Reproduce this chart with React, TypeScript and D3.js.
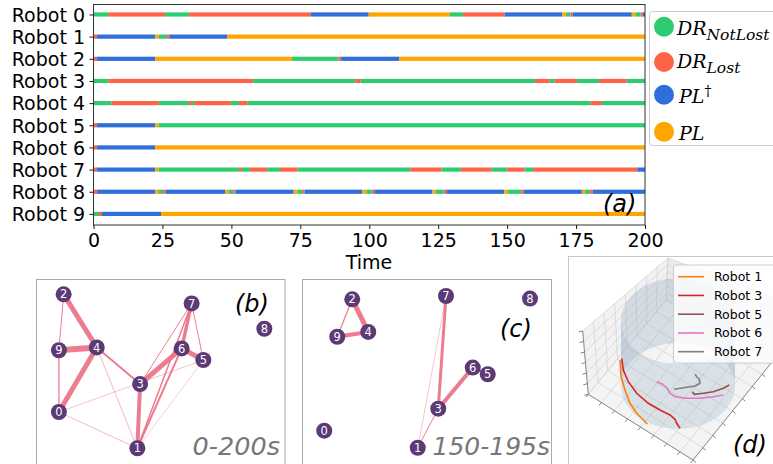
import React, { useEffect, useRef } from "react";
import * as d3 from "d3";

// ---------- (a) timeline data ----------
// state index: 0 = DR_NotLost, 1 = DR_Lost, 2 = PL†, 3 = PL
const STATE_COLORS = ["#2ecc71", "#ff6347", "#2f6fdb", "#ffa500"];
const ROBOTS = ["Robot 0", "Robot 1", "Robot 2", "Robot 3", "Robot 4", "Robot 5", "Robot 6", "Robot 7", "Robot 8", "Robot 9"];
const X_TICKS = [0, 25, 50, 75, 100, 125, 150, 175, 200];
const T_END = 200;

// [start time, state]
const robot0 = [[0, 0], [5.3, 1], [25.9, 0], [34.6, 1], [78.7, 2], [99.8, 3], [129.2, 0], [134, 1], [149.1, 2], [170, 3], [171.4, 0], [173, 1], [173.8, 2], [195.2, 3], [196.6, 0], [198.4, 1], [199.2, 2]];
const robot1 = [[0, 1], [1.3, 2], [22.4, 3], [23.7, 0], [26.6, 1], [27.5, 2], [48.5, 3]];
const robot2 = [[0, 1], [1.3, 2], [22.4, 3], [71.9, 0], [88.8, 1], [89.8, 2], [110.8, 3]];
const robot3 = [[0, 0], [5.4, 1], [57.9, 0], [94.9, 1], [96.9, 0], [160.1, 1], [165.4, 0], [167.2, 1], [175.3, 0], [183.3, 1], [193.4, 0]];
const robot4 = [[0, 0], [6.5, 1], [23.7, 0], [34.6, 1], [35.7, 0], [36.5, 1], [49.8, 0], [52.7, 1], [55.9, 0], [180.3, 1], [184.4, 0]];
const robot5 = [[0, 1], [1.3, 2], [22.4, 3], [23.6, 0]];
const robot6 = [[0, 1], [1.3, 2], [22.4, 3]];
const robot7 = [[0, 1], [1.3, 2], [22.4, 3], [23.6, 0], [52.7, 1], [53.8, 0], [56.7, 1], [63, 0], [67.6, 1], [74, 0], [114.9, 1], [126.2, 0], [133.2, 1], [144.4, 0], [150.1, 1], [156.3, 0], [159.4, 1], [197.2, 2]];
const robot8 = [[0, 1], [1.3, 2], [22.4, 3], [23.7, 0], [25.2, 1], [26.2, 2], [47.8, 3], [49, 0], [50.7, 1], [51.5, 2], [72.6, 3], [74, 0], [75.7, 1], [76.6, 2], [97.5, 3], [99, 0], [100.9, 1], [101.9, 2], [122.9, 3], [124.1, 0], [127, 1], [128, 2], [149, 3], [150.3, 0], [155, 1], [156, 2], [177.1, 3], [178.3, 0], [180.1, 1], [181.1, 2]];
const robot9 = [[0, 0], [2, 1], [3.1, 2], [24.5, 3]];
const TIMELINES = [robot0, robot1, robot2, robot3, robot4, robot5, robot6, robot7, robot8, robot9];

// ---------- (b), (c) graph data ----------
const NODE_IDS = [0, 1, 2, 3, 4, 5, 6, 7, 8, 9];
// layout positions in [0,1] panel units
const nodesB = [[0.092, 0.719], [0.407, 0.915], [0.111, 0.083], [0.418, 0.568], [0.244, 0.37], [0.672, 0.438], [0.585, 0.375], [0.625, 0.132], [0.917, 0.269], [0.092, 0.385]];
const nodesC = [[0.089, 0.82], [0.463, 0.912], [0.201, 0.11], [0.545, 0.701], [0.265, 0.286], [0.743, 0.515], [0.683, 0.479], [0.576, 0.092], [0.912, 0.106], [0.141, 0.312]];
// [source, target, weight]
const edgesB = [[2, 4, 5], [9, 4, 6], [0, 4, 5], [9, 0, 1.3], [2, 9, 1], [4, 3, 2], [4, 1, 0.7], [0, 5, 0.6], [0, 1, 0.7], [3, 1, 4], [3, 6, 5], [3, 7, 1], [6, 5, 5], [6, 7, 3.5], [7, 5, 1], [7, 1, 1.5], [6, 1, 2], [5, 1, 0.5]];
const edgesC = [[2, 4, 5], [9, 4, 4], [2, 9, 1.3], [7, 3, 3], [3, 6, 4], [6, 5, 3], [7, 1, 0.6], [3, 1, 1]];

// ---------- (d) 3D trajectory data (panel units) ----------
const TRAJ_NAMES = ["Robot 1", "Robot 3", "Robot 5", "Robot 6", "Robot 7"];
const TRAJ_COLORS = ["#ff7f0e", "#d62728", "#8c564b", "#e377c2", "#7f7f7f"];
const traj1 = [[52, 104], [53, 120.7], [57, 134], [62, 147.3], [68.7, 157.3], [75.3, 164], [79.3, 168]];
const traj3 = [[53.7, 102.3], [55.3, 114], [60.3, 125.7], [68.7, 137.3], [80.3, 147.3], [92, 154], [102, 159], [107, 163.3], [108.7, 167.3], [112, 172.3]];
const traj5 = [[124.3, 135.7], [126.3, 138.3], [135.3, 137.3], [145.3, 135.7], [155.3, 132.3], [161.3, 129]];
const traj6 = [[88.7, 125.7], [94, 128], [99, 132], [102, 137.3], [107, 140.7], [118.7, 142.3], [132, 142.3], [145.3, 140.7], [155.3, 139]];
const traj7 = [[106, 133.3], [118.7, 131.3], [127, 130], [132, 127.3], [131.3, 123.3], [128.7, 120.7], [127, 118.3]];
const TRAJS = [traj1, traj3, traj5, traj6, traj7];

const FONT = "DejaVu Sans, sans-serif";
const SERIF = "DejaVu Serif, serif";

type P = [number, number];
const lerp = (a: P, b: P, t: number): P => [a[0] + (b[0] - a[0]) * t, a[1] + (b[1] - a[1]) * t];

function Graph({ nodes, edges, x0, x1, y0, y1 }: any) {
  const sx = d3.scaleLinear().domain([0, 1]).range([x0, x1]);
  const sy = d3.scaleLinear().domain([0, 1]).range([y0, y1]);
  const sw = d3.scaleLinear().domain([0, 1]).range([0, 1]);
  return (
    <g>
      {edges.map((e: number[], i: number) => (
        <line key={i} x1={sx(nodes[e[0]][0])} y1={sy(nodes[e[0]][1])} x2={sx(nodes[e[1]][0])} y2={sy(nodes[e[1]][1])}
          stroke="#ea6f85" strokeOpacity={e[2] < 1 ? 0.7 : 0.9} strokeWidth={sw(e[2])} />
      ))}
      {NODE_IDS.map((id) => (
        <g key={id}>
          <circle cx={sx(nodes[id][0])} cy={sy(nodes[id][1])} r={8} fill="#5b3a75" />
          <text x={sx(nodes[id][0])} y={sy(nodes[id][1])} dy="0.36em" textAnchor="middle" fill="#fff" fontSize={11.5} fontFamily={FONT}>{id}</text>
        </g>
      ))}
    </g>
  );
}

function Panel3D() {
  const ox = 568, oy = 256;
  const px = d3.scaleLinear().domain([0, 205]).range([ox, ox + 205]);
  const py = d3.scaleLinear().domain([0, 208]).range([oy, oy + 208]);
  const pt = (p: P): P => [px(p[0]), py(p[1])];
  const C = pt([14.7, 75]), A = pt([100, 2]), B = pt([98, 44]), D = pt([20.3, 138.3]);
  const G = pt([125, 204]), F = pt([204, 106]), E = pt([206, 41]);
  const poly = (ps: P[]) => ps.map((p) => p.join(",")).join(" ");
  const grid: [P, P][] = [];
  for (let i = 0; i <= 8; i++) {
    const s = i / 8;
    grid.push([lerp(C, A, s), lerp(D, B, s)]);
    grid.push([lerp(A, E, s), lerp(B, F, s)]);
    grid.push([lerp(D, B, s), lerp(G, F, s)]);
    grid.push([lerp(D, G, s), lerp(B, F, s)]);
  }
  for (let i = 0; i <= 6; i++) {
    const t = i / 6;
    grid.push([lerp(C, D, t), lerp(A, B, t)]);
    grid.push([lerp(A, B, t), lerp(E, F, t)]);
  }
  const ticks: [P, P][] = [];
  for (let i = 0; i <= 6; i++) {
    const p = lerp(C, D, i / 6);
    ticks.push([p, [p[0] - 4, p[1] + 1]]);
  }
  for (let i = 0; i <= 8; i++) {
    const p = lerp(D, G, i / 8);
    ticks.push([p, [p[0] - 2.5, p[1] + 3]]);
    const q = lerp(G, F, i / 8);
    ticks.push([q, [q[0] + 3, q[1] + 2.5]]);
  }
  const cx = px(110), cyT = py(65), cyB = py(130), rx = 57, ry = 43;
  const L = cx - rx, R = cx + rx;
  const front = `M${L},${cyB} A${rx},${ry} 0 0 0 ${R},${cyB} L${R},${cyT} A${rx},${ry} 0 0 1 ${L},${cyT} Z`;
  const back = `M${L},${cyT} A${rx},${ry} 0 0 1 ${R},${cyT} L${R},${cyB} A${rx},${ry} 0 0 0 ${L},${cyB} Z`;
  const line = d3.line<number[]>().x((d) => px(d[0])).y((d) => py(d[1])).curve(d3.curveLinear);
  return (
    <g>
      <defs>
        <clipPath id="clipD"><rect x={ox} y={oy} width={205} height={208} /></clipPath>
      </defs>
      <g clipPath="url(#clipD)">
        <polygon points={poly([C, A, B, D])} fill="#f2f2f2" />
        <polygon points={poly([A, E, F, B])} fill="#ececec" />
        <polygon points={poly([D, B, F, G])} fill="#f4f4f4" />
        {grid.map((g, i) => (
          <line key={i} x1={g[0][0]} y1={g[0][1]} x2={g[1][0]} y2={g[1][1]} stroke="#d4d4d4" strokeWidth={0.8} />
        ))}
        <polyline points={poly([C, D, G, F])} fill="none" stroke="#777" strokeWidth={0.8} />
        {ticks.map((t, i) => (
          <line key={i} x1={t[0][0]} y1={t[0][1]} x2={t[1][0]} y2={t[1][1]} stroke="#666" strokeWidth={0.8} />
        ))}
        <path d={back} fill="#9db2c8" fillOpacity={0.35} />
        <path d={front} fill="#9db2c8" fillOpacity={0.3} />
        {TRAJS.map((t, i) => (
          <path key={i} d={line(t) || ""} fill="none" stroke={TRAJ_COLORS[i]} strokeWidth={1.6} />
        ))}
        <rect x={673.5} y={265} width={130} height={98} rx={3} fill="#fff" fillOpacity={0.8} stroke="#cccccc" />
        {TRAJ_NAMES.map((n, i) => (
          <g key={n}>
            <line x1={678} x2={704} y1={276.7 + i * 18.75} y2={276.7 + i * 18.75} stroke={TRAJ_COLORS[i]} strokeWidth={1.6} />
            <text x={714} y={276.7 + i * 18.75} dy="0.35em" fontSize={12.5} fontFamily={FONT} fill="#000">{n}</text>
          </g>
        ))}
        <text x={733} y={453} fontSize={24} fontStyle="italic" fontFamily={FONT} fill="#000">(d)</text>
      </g>
      <rect x={ox + 0.5} y={oy + 0.5} width={220} height={220} fill="none" stroke="#c8c8c8" />
    </g>
  );
}

export default function App() {
  const axRef = useRef<SVGGElement>(null);
  const x = d3.scaleLinear().domain([0, T_END]).range([93.5, 645]);
  const y = d3.scaleLinear().domain([-0.45, 9.5]).range([4.5, 225]);

  useEffect(() => {
    const g = d3.select(axRef.current);
    g.selectAll("*").remove();
    const gx = g.append("g").attr("transform", "translate(0,225)")
      .call(d3.axisBottom(x).tickValues(X_TICKS).tickSize(4).tickPadding(4.5).tickFormat(d3.format("d")));
    gx.select(".domain").remove();
    const gy = g.append("g").attr("transform", "translate(93.5,0)")
      .call(d3.axisLeft(y).tickValues(d3.range(10)).tickSize(4).tickPadding(4.5).tickFormat((d: any) => ROBOTS[d]));
    gy.select(".domain").remove();
    g.selectAll("text").attr("font-size", 19).attr("font-family", FONT).attr("fill", "#000");
    gy.selectAll("text").attr("dy", "0.36em");
    g.selectAll(".tick line").attr("stroke", "#000").attr("stroke-width", 0.9);
  }, []);

  return (
    <svg width={773} height={464} style={{ position: "absolute", left: 0, top: 0, background: "#fff" }} fontFamily={FONT}>
      <rect width={773} height={464} fill="#fff" />
      {/* (a) timeline */}
      {TIMELINES.map((segs, r) => (
        <g key={r}>
          {segs.map((s, i) => {
            const end = i + 1 < segs.length ? segs[i + 1][0] : T_END;
            return <rect key={i} x={x(s[0])} y={y(r) - 2.1} width={x(end) - x(s[0])} height={4.2} fill={STATE_COLORS[s[1]]} />;
          })}
        </g>
      ))}
      <rect x={93.5} y={4.5} width={551.5} height={220.5} fill="none" stroke="#333" strokeWidth={1} />
      <g ref={axRef} />
      <text x={369} y={269} textAnchor="middle" fontSize={19} fontFamily={FONT}>Time</text>
      <text x={603} y={212} fontSize={24} fontStyle="italic" fontFamily={FONT}>(a)</text>

      {/* legend */}
      <rect x={649.5} y={11.5} width={140} height={134} rx={3} fill="#fff" stroke="#cccccc" />
      {[26.7, 62, 94.7, 131.7].map((cy, i) => (
        <circle key={i} cx={664} cy={cy} r={10} fill={STATE_COLORS[i]} />
      ))}
      <text x={677} y={35} fontFamily={SERIF} fontStyle="italic" fontSize={19}>DR<tspan dy={4.5} fontSize={15.5}>NotLost</tspan></text>
      <text x={677} y={68.3} fontFamily={SERIF} fontStyle="italic" fontSize={19}>DR<tspan dy={4.5} fontSize={15.5}>Lost</tspan></text>
      <text x={679} y={103.3} fontFamily={SERIF} fontStyle="italic" fontSize={19}>PL<tspan dy={-7} fontSize={14} fontStyle="normal">†</tspan></text>
      <text x={679} y={140} fontFamily={SERIF} fontStyle="italic" fontSize={19}>PL</text>

      {/* (b) */}
      <rect x={36.5} y={279.5} width={248.5} height={200} fill="none" stroke="#aaaaaa" />
      <Graph nodes={nodesB} edges={edgesB} x0={36} x1={285} y0={279} y1={464} />
      <text x={235} y={311.7} fontSize={24} fontStyle="italic" fontFamily={FONT}>(b)</text>
      <text x={280} y={455} textAnchor="end" fontSize={25.5} fontStyle="italic" fill="#777" fontFamily={FONT}>0-200s</text>

      {/* (c) */}
      <rect x={302.5} y={279.5} width={249} height={200} fill="none" stroke="#aaaaaa" />
      <Graph nodes={nodesC} edges={edgesC} x0={302} x1={552} y0={279} y1={464} />
      <text x={500} y={336.7} fontSize={24} fontStyle="italic" fontFamily={FONT}>(c)</text>
      <text x={550} y={455} textAnchor="end" fontSize={25} fontStyle="italic" fill="#777" fontFamily={FONT}>150-195s</text>

      {/* (d) */}
      <Panel3D />
    </svg>
  );
}
